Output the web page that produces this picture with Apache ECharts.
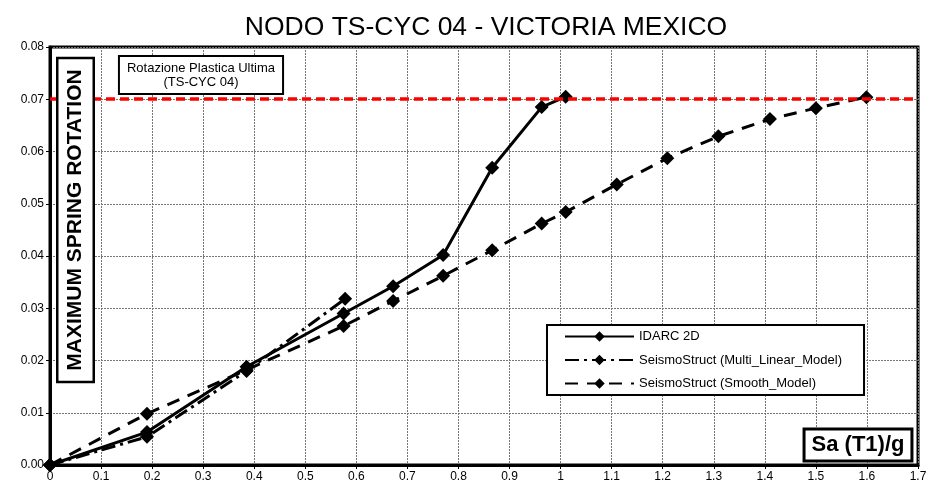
<!DOCTYPE html>
<html>
<head>
<meta charset="utf-8">
<script src="https://cdn.jsdelivr.net/npm/echarts@6/dist/echarts.min.js"></script>
<style>html,body{margin:0;padding:0;background:#fff;}#c{width:930px;height:489px;}</style>
</head>
<body>
<div id="c"></div>
<script>
var chartTitle = 'NODO TS-CYC 04 - VICTORIA MEXICO';
var seriesNames = ['IDARC 2D', 'SeismoStruct (Multi_Linear_Model)', 'SeismoStruct (Smooth_Model)'];
var idarcX = [0, 0.19, 0.385, 0.575, 0.672, 0.77, 0.866, 0.963, 1.01];
var idarcY = [0, 0.0063, 0.0188, 0.029, 0.0342, 0.0402, 0.0569, 0.0685, 0.0705];
var multiX = [0, 0.19, 0.385, 0.578];
var multiY = [0, 0.0054, 0.018, 0.0318];
var smoothX = [0, 0.19, 0.385, 0.575, 0.672, 0.77, 0.866, 0.963, 1.01, 1.11, 1.209, 1.309, 1.41, 1.50, 1.599];
var smoothY = [0, 0.0098, 0.0182, 0.0266, 0.0314, 0.0362, 0.0411, 0.0462, 0.0484, 0.0537, 0.0587, 0.0629, 0.0662, 0.0683, 0.0704];
var limitValue = 0.07;
var limitLabel = 'Rotazione Plastica Ultima\n(TS-CYC 04)';
var yAxisLabel = 'MAXIMUM SPRING ROTATION';
var xAxisLabel = 'Sa (T1)/g';

function pairs(xs, ys) { return xs.map(function (x, i) { return [x, ys[i]]; }); }

var FONT = '"Liberation Sans", Arial, sans-serif';
var chart = echarts.init(document.getElementById('c'));
chart.setOption({
  animation: false,
  backgroundColor: '#fff',
  textStyle: { fontFamily: FONT },
  title: {
    text: chartTitle, left: 481, top: 9, textAlign: 'center',
    textStyle: { fontFamily: FONT, fontSize: 26.5, fontWeight: 'normal', color: '#000' }
  },
  grid: { left: 50, top: 47, width: 868, height: 418, show: true, borderColor: '#000', borderWidth: 3, backgroundColor: '#fff' },
  xAxis: {
    type: 'value', min: 0, max: 1.7, interval: 0.1,
    axisLine: { show: true, lineStyle: { color: '#000', width: 3 } },
    axisTick: { show: true, length: 4, lineStyle: { color: '#000' } },
    axisLabel: { color: '#000', fontSize: 12, fontFamily: FONT, margin: 6 },
    splitLine: { show: true, lineStyle: { color: '#777', width: 1, type: [2, 1] } }
  },
  yAxis: {
    type: 'value', min: 0, max: 0.08, interval: 0.01,
    axisLine: { show: true, lineStyle: { color: '#000', width: 3 } },
    axisTick: { show: true, length: 4, lineStyle: { color: '#000' } },
    axisLabel: { color: '#000', fontSize: 12, fontFamily: FONT, margin: 6, formatter: function (v) { return v.toFixed(2); } },
    splitLine: { show: true, lineStyle: { color: '#777', width: 1, type: [2, 1] } }
  },
  legend: {
    orient: 'vertical', left: 547, top: 325,
    data: seriesNames,
    itemWidth: 69, itemHeight: 13, itemGap: 10.5,
    padding: [5, 22, 5, 17],
    backgroundColor: '#fff', borderColor: '#000', borderWidth: 2,
    textStyle: { color: '#000', fontSize: 13, fontFamily: FONT }
  },
  series: [
    {
      name: seriesNames[0], type: 'line', data: pairs(idarcX, idarcY),
      symbol: 'diamond', symbolSize: 14, z: 4,
      lineStyle: { color: '#000', width: 3, type: 'solid' },
      itemStyle: { color: '#000' },
      markLine: {
        silent: true, symbol: 'none', z: 5,
        label: { show: false },
        lineStyle: { color: '#ff0000', width: 3.5, type: [9, 5] },
        data: [{ yAxis: limitValue }]
      }
    },
    {
      name: seriesNames[1], type: 'line', data: pairs(multiX, multiY),
      symbol: 'diamond', symbolSize: 14, z: 3,
      lineStyle: { color: '#000', width: 3, type: [14, 5, 3, 5] },
      itemStyle: { color: '#000' }
    },
    {
      name: seriesNames[2], type: 'line', data: pairs(smoothX, smoothY),
      symbol: 'diamond', symbolSize: 14, z: 3,
      lineStyle: { color: '#000', width: 3, type: [13, 9] },
      itemStyle: { color: '#000' }
    }
  ],
  graphic: [
    {
      type: 'text', x: 201, y: 75, z: 100,
      style: {
        text: limitLabel, align: 'center', verticalAlign: 'middle',
        font: '13px ' + FONT, fill: '#000', lineHeight: 14,
        backgroundColor: '#fff', borderColor: '#000', borderWidth: 2,
        padding: [4, 7, 4, 7]
      }
    },
    {
      type: 'text', x: 75.5, y: 220, rotation: Math.PI / 2, z: 100,
      style: {
        text: yAxisLabel, align: 'center', verticalAlign: 'middle',
        font: 'bold 21px ' + FONT, fill: '#000', lineHeight: 24,
        backgroundColor: '#fff', borderColor: '#000', borderWidth: 2.5,
        padding: [5, 10, 5, 10]
      }
    },
    {
      type: 'text', x: 858, y: 445, z: 100,
      style: {
        text: xAxisLabel, align: 'center', verticalAlign: 'middle',
        font: 'bold 22px ' + FONT, fill: '#000', lineHeight: 24,
        backgroundColor: '#fff', borderColor: '#000', borderWidth: 3,
        padding: [3, 6, 2, 6]
      }
    }
  ]
});
</script>
</body>
</html>
